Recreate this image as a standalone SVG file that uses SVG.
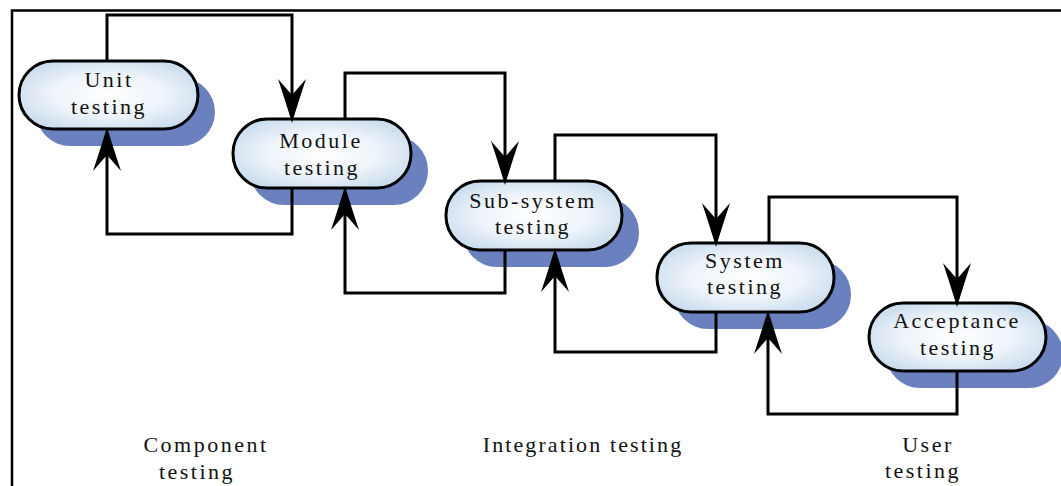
<svg xmlns="http://www.w3.org/2000/svg" width="1061" height="486" viewBox="0 0 1061 486">
  <defs>
    <radialGradient id="pillFill" cx="50%" cy="50%" r="62%">
      <stop offset="0" stop-color="#ffffff"/>
      <stop offset="0.5" stop-color="#eef4fa"/>
      <stop offset="1" stop-color="#c4d8eb"/>
    </radialGradient>
    <marker id="arrow" markerUnits="userSpaceOnUse" viewBox="0 -15 44 30" markerWidth="44" markerHeight="30" refX="16" refY="0" orient="auto">
      <path d="M0,-14 L16,0 L0,14 Q24,6 44,0 Q24,-6 0,-14 Z" fill="#000"/>
    </marker>
    <style>
      .shadow { fill: #6b80be; }
      .pill { fill: url(#pillFill); stroke: #000; stroke-width: 3; }
      .label { font-family: "Liberation Serif", "Times New Roman", serif; font-size: 22px; letter-spacing: 2.5px; fill: #111; text-anchor: middle; }
      .wire { fill: none; stroke: #000; stroke-width: 3; }
      .wire-in { marker-end: url(#arrow); }
      .frame { fill: none; stroke: #000; stroke-width: 2.5; }
    </style>
  </defs>

  <rect width="1061" height="486" fill="#fff"/>

  <!-- outer frame (top and left edges) -->
  <path class="frame" d="M12,486 L12,10.5 L1061,10.5"/>

  <!-- stage nodes -->
  <g id="unit-testing">
    <rect class="shadow" x="36" y="78" width="179" height="68" rx="34"/>
    <rect class="pill" x="19" y="61" width="179" height="68" rx="34"/>
    <text class="label" x="109" y="87">Unit</text>
    <text class="label" x="109" y="114">testing</text>
  </g>

  <g id="module-testing">
    <rect class="shadow" x="250" y="136" width="178" height="69" rx="34"/>
    <rect class="pill" x="233" y="119" width="178" height="69" rx="34"/>
    <text class="label" x="321" y="148">Module</text>
    <text class="label" x="322" y="175">testing</text>
  </g>

  <g id="subsystem-testing">
    <rect class="shadow" x="463" y="198" width="176" height="69" rx="34"/>
    <rect class="pill" x="446" y="181" width="176" height="69" rx="34"/>
    <text class="label" x="533" y="208">Sub-system</text>
    <text class="label" x="533" y="234">testing</text>
  </g>

  <g id="system-testing">
    <rect class="shadow" x="674" y="260" width="177" height="69" rx="34"/>
    <rect class="pill" x="657" y="243" width="177" height="69" rx="34"/>
    <text class="label" x="745" y="268">System</text>
    <text class="label" x="745" y="294">testing</text>
  </g>

  <g id="acceptance-testing">
    <rect class="shadow" x="886" y="320" width="177" height="68" rx="34"/>
    <rect class="pill" x="869" y="303" width="177" height="68" rx="34"/>
    <text class="label" x="957" y="328">Acceptance</text>
    <text class="label" x="958" y="355">testing</text>
  </g>

  <!-- forward and feedback connectors -->
  <g id="connectors">
    <path class="wire wire-in" d="M107,61 V15 H292 V95"/>
    <path class="wire wire-in" d="M292,188 V234 H107 V155"/>
    <path class="wire wire-in" d="M345,119 V73 H505 V157"/>
    <path class="wire wire-in" d="M505,250 V293 H345 V214"/>
    <path class="wire wire-in" d="M555,181 V135 H716 V219"/>
    <path class="wire wire-in" d="M716,312 V352 H555 V276"/>
    <path class="wire wire-in" d="M769,243 V197 H957 V279"/>
    <path class="wire wire-in" d="M957,371 V414 H768 V338"/>
  </g>

  <!-- phase captions -->
  <g id="phase-labels">
    <text class="label" x="206" y="452">Component</text>
    <text class="label" x="197" y="479">testing</text>
    <text class="label" x="583" y="452" style="letter-spacing:2.1px">Integration testing</text>
    <text class="label" x="928" y="452">User</text>
    <text class="label" x="923" y="478">testing</text>
  </g>
</svg>
